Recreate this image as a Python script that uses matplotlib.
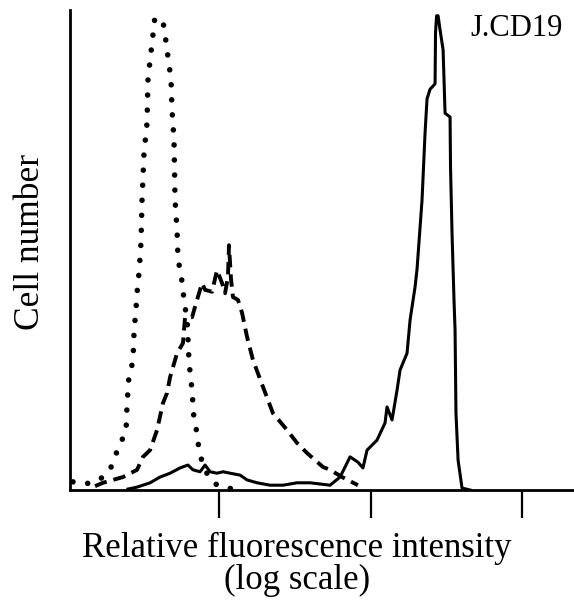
import numpy as np
import matplotlib
matplotlib.use("Agg")
import matplotlib.pyplot as plt

plt.rcParams['font.family'] = ['Liberation Serif', 'DejaVu Serif']

# log10 relative fluorescence intensity and cell number (% of max)
isotype_log = [0.036, 0.109, 0.201, 0.274, 0.307, 0.340, 0.386, 0.393, 0.406, 0.432,
               0.439, 0.455, 0.462, 0.472, 0.485, 0.492, 0.505, 0.525, 0.531, 0.564,
               0.570, 0.597, 0.630, 0.644, 0.657, 0.683, 0.690, 0.703, 0.710, 0.723,
               0.729, 0.762, 0.769, 0.789, 0.802, 0.822, 0.835, 0.855, 0.868, 0.894,
               0.941, 1.007, 1.106]
isotype_cnt = [1.7, 1.2, 1.9, 3.8, 6.2, 9.4, 11.9, 17.7, 24.0, 26.7,
               32.7, 39.0, 42.3, 45.2, 51.5, 60.4, 70.2, 76.5, 85.6, 94.8,
               97.7, 98.5, 97.7, 94.8, 91.7, 85.6, 79.2, 72.9, 60.4, 54.2,
               48.3, 42.3, 39.0, 36.0, 26.7, 20.8, 14.6, 11.9, 8.3, 5.2,
               2.1, 0.6, 0.2]

dashed_log = [0.182, 0.234, 0.366, 0.459, 0.498, 0.545, 0.591, 0.630, 0.657, 0.677,
              0.723, 0.762, 0.776, 0.822, 0.855, 0.888, 0.908, 0.954, 0.987, 1.020,
              1.040, 1.059, 1.066, 1.079, 1.092, 1.125, 1.152, 1.185, 1.224, 1.290,
              1.356, 1.449, 1.515, 1.581, 1.686, 1.733, 1.812, 1.917]
dashed_cnt = [0.8, 1.5, 2.7, 4.2, 6.9, 8.3, 12.5, 18.1, 20.2, 23.5,
              28.5, 30.6, 36.0, 36.0, 39.6, 43.1, 41.7, 41.3, 45.8, 43.1,
              41.0, 44.4, 51.0, 44.0, 40.2, 39.6, 36.9, 31.9, 27.1, 21.5,
              16.0, 12.5, 9.8, 7.7, 4.8, 4.2, 2.7, 1.0]

cd19_log = [0.399, 0.459, 0.545, 0.611, 0.677, 0.743, 0.795, 0.828, 0.875, 0.908,
            0.941, 0.987, 1.026, 1.073, 1.139, 1.185, 1.251, 1.337, 1.422, 1.515,
            1.601, 1.667, 1.733, 1.799, 1.865, 1.917, 1.950, 1.977, 2.043, 2.096,
            2.109, 2.142, 2.175, 2.195, 2.241, 2.261, 2.294, 2.307, 2.340, 2.360,
            2.373, 2.393, 2.426, 2.429, 2.436, 2.446, 2.456, 2.479, 2.492, 2.525,
            2.528, 2.538, 2.545, 2.551, 2.558, 2.564, 2.578, 2.604, 2.657]
cd19_cnt = [0.2, 0.6, 1.5, 2.7, 3.5, 4.6, 5.2, 4.2, 3.8, 5.2,
            3.8, 3.5, 3.8, 3.5, 3.1, 2.1, 1.5, 1.0, 1.0, 1.5,
            1.5, 1.25, 1.0, 2.7, 6.9, 5.8, 4.6, 8.3, 10.4, 14.0,
            17.3, 14.6, 20.8, 25.0, 28.5, 35.4, 42.3, 46.0, 60.4, 74.4,
            81.5, 83.5, 84.6, 95.2, 98.8, 98.8, 96.5, 91.7, 78.5, 77.7,
            67.3, 53.5, 46.0, 39.6, 33.3, 16.0, 6.2, 0.4, 0.0]

tick_pos = [10, 100, 1000]

fig = plt.figure(figsize=(5.74, 6.04), dpi=100)
ax = fig.add_axes([70/574, 114/604, 504/574, 480/604])

ax.plot(10**np.array(isotype_log), isotype_cnt, color='black', lw=4.0,
        linestyle=(0, (0.01, 2.7)), dash_capstyle='round')
ax.plot(10**np.array(dashed_log), dashed_cnt, color='black', lw=2.8,
        linestyle=(0, (3.2, 1.8)))
ax.plot(10**np.array(cd19_log), cd19_cnt, color='black', lw=2.2)

ax.set_xscale('log')
ax.set_xlim(10**0.0165, 10**3.343)
ax.set_ylim(0, 100)
ax.set_xticks(tick_pos)
ax.set_xticklabels([])
ax.xaxis.set_minor_locator(matplotlib.ticker.NullLocator())
ax.set_yticks([])
ax.tick_params(axis='x', direction='out', length=20, width=1.6, color='black')
for s in ['top', 'right']:
    ax.spines[s].set_visible(False)
for s in ['left', 'bottom']:
    ax.spines[s].set_linewidth(2.0)
ax.spines['left'].set_bounds(0, 100)

ax.text(0.887, 0.962, 'J.CD19', transform=ax.transAxes, ha='center', va='center',
        fontsize=22)

fig.text(297/574, 1 - 548/604, 'Relative fluorescence intensity', ha='center',
         va='center', fontsize=25)
fig.text(297/574, 1 - 580/604, '(log scale)', ha='center', va='center', fontsize=25)
fig.text(31/574, 1 - 242/604, 'Cell number', ha='center', va='center',
         rotation=90, fontsize=25.5)

fig.savefig('out.png', dpi=100, facecolor='white')
